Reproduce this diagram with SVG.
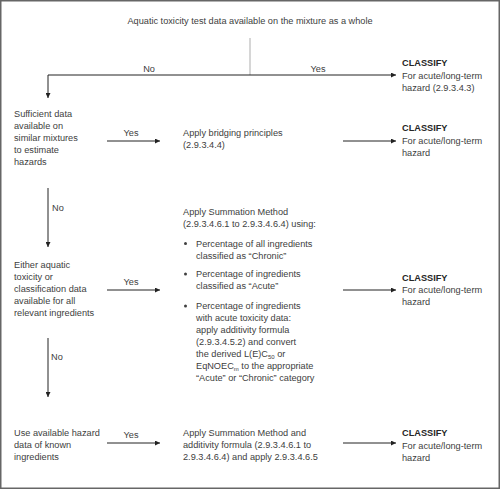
<svg xmlns="http://www.w3.org/2000/svg" width="500" height="489" viewBox="0 0 500 489">
<defs>
<style>
.t{font-family:"Liberation Sans",Arial,Helvetica,sans-serif;font-size:9.2px;fill:#404040}
.b{font-weight:bold;fill:#262626}
.m{text-anchor:middle}
.c{stroke:#222;stroke-width:1;fill:none}
.g{stroke:#c8c8c8;stroke-width:1.5;fill:none}
.s{font-size:6px}
</style>
<marker id="ah" markerUnits="userSpaceOnUse" markerWidth="6" markerHeight="5" refX="5" refY="2.5" orient="auto">
<path d="M0,0 L5,2.5 L0,5 z" fill="#222"/>
</marker>
</defs>
<rect x="0.75" y="0.75" width="498.5" height="487.5" fill="#fff" stroke="#666" stroke-width="1.5"/>

<g id="start">
<text class="t m" x="250" y="23.5">Aquatic toxicity test data available on the mixture as a whole</text>
</g>

<g id="classify1">
<text class="t b" x="402" y="66">CLASSIFY</text>
<text class="t" x="402" y="78.5">For acute/long-term</text>
<text class="t" x="402" y="91">hazard (2.9.3.4.3)</text>
</g>

<g id="similar">
<text class="t" x="14" y="117">Sufficient data</text>
<text class="t" x="14" y="129">available on</text>
<text class="t" x="14" y="141">similar mixtures</text>
<text class="t" x="14" y="153">to estimate</text>
<text class="t" x="14" y="165">hazards</text>
</g>

<g id="bridging">
<text class="t" x="183" y="136">Apply bridging principles</text>
<text class="t" x="183" y="148">(2.9.3.4.4)</text>
</g>

<g id="classify2">
<text class="t b" x="402" y="131">CLASSIFY</text>
<text class="t" x="402" y="143.5">For acute/long-term</text>
<text class="t" x="402" y="155.5">hazard</text>
</g>

<g id="ingredients">
<text class="t" x="14" y="267.5">Either aquatic</text>
<text class="t" x="14" y="279.5">toxicity or</text>
<text class="t" x="14" y="291.5">classification data</text>
<text class="t" x="14" y="303.5">available for all</text>
<text class="t" x="14" y="315.5">relevant ingredients</text>
</g>

<g id="summation">
<text class="t" x="183" y="214.5">Apply Summation Method</text>
<text class="t" x="183" y="226.5">(2.9.3.4.6.1 to 2.9.3.4.6.4) using:</text>
<circle cx="185.5" cy="243.5" r="1.5" fill="#404040"/>
<text class="t" x="196" y="246.5">Percentage of all ingredients</text>
<text class="t" x="196" y="258.5">classified as “Chronic”</text>
<circle cx="185.5" cy="274" r="1.5" fill="#404040"/>
<text class="t" x="196" y="277">Percentage of ingredients</text>
<text class="t" x="196" y="289">classified as “Acute”</text>
<circle cx="185.5" cy="306" r="1.5" fill="#404040"/>
<text class="t" x="196" y="309">Percentage of ingredients</text>
<text class="t" x="196" y="321">with acute toxicity data:</text>
<text class="t" x="196" y="333">apply additivity formula</text>
<text class="t" x="196" y="345">(2.9.3.4.5.2) and convert</text>
<text class="t" x="196" y="357">the derived L(E)C<tspan class="s" dy="2">50</tspan><tspan dy="-2"> or</tspan></text>
<text class="t" x="196" y="369">EqNOEC<tspan class="s" dy="2">m</tspan><tspan dy="-2"> to the appropriate</tspan></text>
<text class="t" x="196" y="381">“Acute” or “Chronic” category</text>
</g>

<g id="classify3">
<text class="t b" x="402" y="280.5">CLASSIFY</text>
<text class="t" x="402" y="293">For acute/long-term</text>
<text class="t" x="402" y="305">hazard</text>
</g>

<g id="known">
<text class="t" x="14" y="436">Use available hazard</text>
<text class="t" x="14" y="448">data of known</text>
<text class="t" x="14" y="460">ingredients</text>
</g>

<g id="summation2">
<text class="t" x="183" y="436">Apply Summation Method and</text>
<text class="t" x="183" y="448">additivity formula (2.9.3.4.6.1 to</text>
<text class="t" x="183" y="460">2.9.3.4.6.4) and apply 2.9.3.4.6.5</text>
</g>

<g id="classify4">
<text class="t b" x="402" y="436">CLASSIFY</text>
<text class="t" x="402" y="448.5">For acute/long-term</text>
<text class="t" x="402" y="460.5">hazard</text>
</g>

<g id="connectors">
<path class="g" d="M250,38 V75"/>
<path class="c" d="M250,75 H48 V98" marker-end="url(#ah)"/>
<path class="c" d="M250,75 H396" marker-end="url(#ah)"/>
<path class="c" d="M107,141 H160" marker-end="url(#ah)"/>
<path class="c" d="M343,141 H396" marker-end="url(#ah)"/>
<path class="c" d="M48,188 V247" marker-end="url(#ah)"/>
<path class="c" d="M107,290 H160" marker-end="url(#ah)"/>
<path class="c" d="M343,290 H396" marker-end="url(#ah)"/>
<path class="c" d="M48,338 V397" marker-end="url(#ah)"/>
<path class="c" d="M107,443 H160" marker-end="url(#ah)"/>
<path class="c" d="M343,443 H396" marker-end="url(#ah)"/>
</g>

<g id="labels">
<text class="t m" x="149" y="71.5">No</text>
<text class="t m" x="318" y="71.5">Yes</text>
<text class="t m" x="131" y="136">Yes</text>
<text class="t" x="52" y="211">No</text>
<text class="t m" x="131" y="285">Yes</text>
<text class="t" x="51" y="360">No</text>
<text class="t m" x="131" y="438">Yes</text>
</g>
</svg>
